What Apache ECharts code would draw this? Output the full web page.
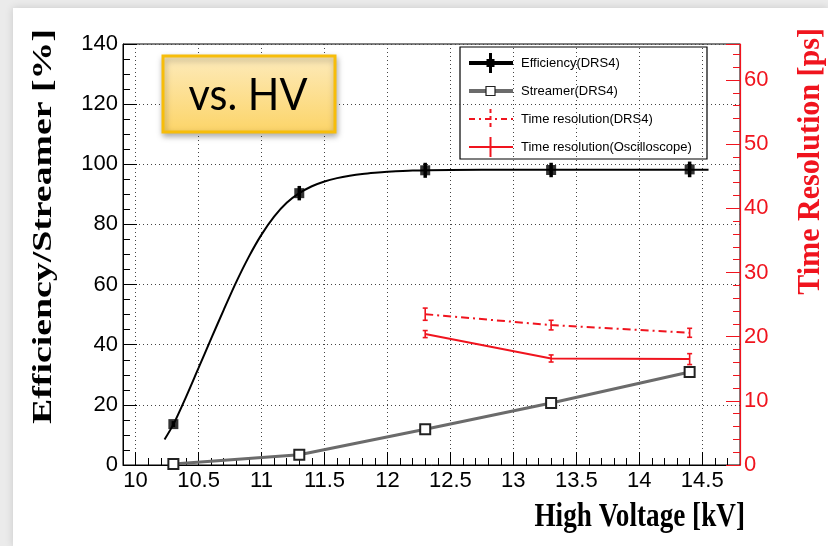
<!DOCTYPE html>
<html>
<head>
<meta charset="utf-8">
<title>Efficiency and time resolution vs. HV</title>
<script src="https://cdn.jsdelivr.net/npm/echarts@6/dist/echarts.min.js"></script>
<style>
  html, body { margin: 0; padding: 0; background: #ebebeb; }
  #sheet { position: absolute; left: 13px; top: 8px; width: 815px; height: 538px; background: #fff; box-shadow: 0 0 8px rgba(0, 0, 0, 0.15); }
  #main { position: absolute; left: 0; top: 0; width: 828px; height: 546px; }
</style>
</head>
<body>
<div id="sheet"></div>
<div id="main"></div>
<script>
// measured points (HV in kV)
const voltage = [10.3, 11.3, 12.3, 13.3, 14.4];
const efficiency = [13.6, 90.4, 98.0, 98.1, 98.3];
const efficiencyErr = [1.0, 2.4, 2.5, 2.4, 2.6];
const streamer = [0.3, 3.4, 11.9, 20.6, 30.9];

// fitted efficiency curve
const fitVoltage = [10.23, 10.3, 10.4, 10.5, 10.6, 10.7, 10.8, 10.9, 11.0, 11.1, 11.2, 11.3, 11.4, 11.5, 11.6, 11.7, 11.8, 11.9, 12.0, 12.2, 12.5, 13.0, 14.55];
const fitEfficiency = [8.5, 13.5, 22.6, 32.3, 42.0, 51.6, 60.9, 69.3, 76.6, 82.6, 87.2, 90.4, 92.7, 94.3, 95.4, 96.2, 96.8, 97.2, 97.5, 97.9, 98.1, 98.2, 98.2];

// time resolution [ps], right axis
const trVoltage = [12.3, 13.3, 14.4];
const trDrs4 = [23.5, 21.8, 20.6];
const trDrs4Err = [0.95, 0.75, 0.7];
const trOscilloscope = [20.4, 16.6, 16.5];
const trOscilloscopeErr = [0.55, 0.55, 0.85];

// axis ranges
const xRange = [9.9, 14.8];
const effRange = [0, 140];
const trRange = [0, 65.6];

const RED = '#f0141e';

function errorBars(color, width, cap) {
  return function (params, api) {
    const x = api.value(0);
    const lo = api.coord([x, api.value(1)]);
    const hi = api.coord([x, api.value(2)]);
    const children = [{
      type: 'line',
      shape: { x1: lo[0], y1: lo[1], x2: hi[0], y2: hi[1] },
      style: { stroke: color, lineWidth: width }
    }];
    if (cap) {
      children.push({ type: 'line', shape: { x1: lo[0] - cap, y1: lo[1], x2: lo[0] + cap, y2: lo[1] }, style: { stroke: color, lineWidth: width } });
      children.push({ type: 'line', shape: { x1: hi[0] - cap, y1: hi[1], x2: hi[0] + cap, y2: hi[1] }, style: { stroke: color, lineWidth: width } });
    }
    return { type: 'group', children: children };
  };
}

const chart = echarts.init(document.getElementById('main'));

const tickFont = 'Liberation Sans';
const titleFont = '"Liberation Serif", serif';

const option = {
  animation: false,
  grid: { left: 123, right: 88, top: 44, bottom: 81, show: true, borderColor: '#000', borderWidth: 1 },
  xAxis: {
    type: 'value', min: xRange[0], max: xRange[1], splitNumber: 10,
    axisLine: { lineStyle: { color: '#000', width: 1 } },
    axisTick: { inside: true, length: 13, lineStyle: { color: '#000' } },
    minorTick: { show: true, splitNumber: 5, length: 7, lineStyle: { color: '#000' } },
    axisLabel: { color: '#000', fontSize: 22, fontFamily: tickFont, margin: 5, showMinLabel: false, showMaxLabel: false },
    splitLine: { show: true, lineStyle: { color: '#444', type: [1, 3] } }
  },
  yAxis: [{
    type: 'value', min: effRange[0], max: effRange[1], interval: 20,
    axisLine: { show: true, lineStyle: { color: '#000', width: 1 } },
    axisTick: { show: true, inside: true, length: 14, lineStyle: { color: '#000' } },
    minorTick: { show: true, splitNumber: 4, length: 7, lineStyle: { color: '#000' } },
    axisLabel: { color: '#000', fontSize: 22, fontFamily: tickFont, margin: 5 },
    splitLine: { show: true, lineStyle: { color: '#444', type: [1, 3] } }
  }, {
    type: 'value', position: 'right', min: trRange[0], max: trRange[1], interval: 10, z: 3,
    axisLine: { show: true, lineStyle: { color: RED, width: 1.2 } },
    axisTick: { show: true, inside: true, length: 14, lineStyle: { color: RED } },
    minorTick: { show: true, splitNumber: 5, length: 7, lineStyle: { color: RED } },
    axisLabel: { color: RED, fontSize: 22, fontFamily: tickFont, margin: 4, showMaxLabel: false },
    splitLine: { show: false }
  }],
  series: [{
    name: 'Efficiency fit', type: 'line', smooth: 0.3, showSymbol: false, z: 3,
    data: fitVoltage.map((v, i) => [v, fitEfficiency[i]]),
    lineStyle: { color: '#000', width: 2 }
  }, {
    name: 'Streamer(DRS4)', type: 'line', z: 3,
    data: voltage.map((v, i) => [v, streamer[i]]),
    lineStyle: { color: '#6b6b6b', width: 3 },
    symbol: 'emptyRect', symbolSize: 10,
    itemStyle: { color: '#222', borderWidth: 1.2 }
  }, {
    name: 'Efficiency(DRS4)', type: 'scatter', z: 5,
    data: voltage.map((v, i) => [v, efficiency[i]]),
    symbol: 'rect', symbolSize: 10,
    itemStyle: { color: '#000' }
  }, {
    name: 'Efficiency error', type: 'custom', z: 4,
    renderItem: errorBars('#000', 3.5, 0),
    encode: { x: 0, y: [1, 2] },
    data: voltage.map((v, i) => [v, efficiency[i] - efficiencyErr[i], efficiency[i] + efficiencyErr[i]])
  }, {
    name: 'Time resolution(DRS4)', type: 'line', yAxisIndex: 1, showSymbol: false, z: 3,
    data: trVoltage.map((v, i) => [v, trDrs4[i]]),
    lineStyle: { color: RED, width: 2, type: [8, 4, 2, 4] }
  }, {
    name: 'DRS4 error', type: 'custom', yAxisIndex: 1, z: 4,
    renderItem: errorBars(RED, 1.6, 2.5),
    encode: { x: 0, y: [1, 2] },
    data: trVoltage.map((v, i) => [v, trDrs4[i] - trDrs4Err[i], trDrs4[i] + trDrs4Err[i]])
  }, {
    name: 'Time resolution(Oscilloscope)', type: 'line', yAxisIndex: 1, showSymbol: false, z: 3,
    data: trVoltage.map((v, i) => [v, trOscilloscope[i]]),
    lineStyle: { color: RED, width: 2 }
  }, {
    name: 'Oscilloscope error', type: 'custom', yAxisIndex: 1, z: 4,
    renderItem: errorBars(RED, 1.6, 2.5),
    encode: { x: 0, y: [1, 2] },
    data: trVoltage.map((v, i) => [v, trOscilloscope[i] - trOscilloscopeErr[i], trOscilloscope[i] + trOscilloscopeErr[i]])
  }],
  graphic: [
    // axis titles
    { type: 'text', x: 44, y: 29, rotation: Math.PI / 2, scaleX: 1.4, z: 10,
      style: { text: 'Efficiency/Streamer [%]', font: 'bold 27px ' + titleFont, fill: '#000', align: 'right', verticalAlign: 'middle' } },
    { type: 'text', x: 811, y: 28, rotation: Math.PI / 2, scaleX: 0.97, z: 10,
      style: { text: 'Time Resolution [ps]', font: 'bold 31px ' + titleFont, fill: RED, align: 'right', verticalAlign: 'middle' } },
    { type: 'text', x: 745, y: 517, scaleX: 0.8, z: 10,
      style: { text: 'High Voltage [kV]', font: 'bold 34px ' + titleFont, fill: '#000', align: 'right', verticalAlign: 'middle' } },
    // "vs. HV" label box
    { type: 'rect', z: 10, shape: { x: 163, y: 56, width: 172, height: 76 },
      style: {
        fill: new echarts.graphic.LinearGradient(0, 0, 0, 1, [{ offset: 0, color: '#fdebbd' }, { offset: 1, color: '#fcd467' }]),
        stroke: '#f7bd0a', lineWidth: 3,
        shadowBlur: 6, shadowOffsetX: 1, shadowOffsetY: 3, shadowColor: 'rgba(0,0,0,0.3)'
      } },
    { type: 'text', x: 248, y: 95, scaleX: 0.92, z: 11,
      style: { text: 'vs. HV', font: '45px Lato, "Open Sans", sans-serif', fill: '#000', align: 'center', verticalAlign: 'middle' } },
    // legend box
    { type: 'group', x: 460, y: 47, z: 10, children: [
      { type: 'rect', shape: { x: 0, y: 0, width: 247, height: 112 }, style: { fill: '#fff', stroke: '#000', lineWidth: 1.2 } },
      { type: 'line', shape: { x1: 9, y1: 16, x2: 53, y2: 16 }, style: { stroke: '#000', lineWidth: 4 } },
      { type: 'line', shape: { x1: 30.5, y1: 6, x2: 30.5, y2: 26 }, style: { stroke: '#000', lineWidth: 3 } },
      { type: 'rect', shape: { x: 26.5, y: 12, width: 8, height: 8 }, style: { fill: '#000' } },
      { type: 'text', x: 61, y: 16, style: { text: 'Efficiency(DRS4)', font: '13px "Liberation Sans"', fill: '#000', verticalAlign: 'middle' } },
      { type: 'line', shape: { x1: 9, y1: 44, x2: 53, y2: 44 }, style: { stroke: '#6b6b6b', lineWidth: 4 } },
      { type: 'rect', shape: { x: 26, y: 39.5, width: 9, height: 9 }, style: { fill: '#fff', stroke: '#222', lineWidth: 1.2 } },
      { type: 'text', x: 61, y: 44, style: { text: 'Streamer(DRS4)', font: '13px "Liberation Sans"', fill: '#000', verticalAlign: 'middle' } },
      { type: 'line', shape: { x1: 9, y1: 72, x2: 53, y2: 72 }, style: { stroke: RED, lineWidth: 2, lineDash: [6, 4, 2, 4] } },
      { type: 'line', shape: { x1: 30.5, y1: 62, x2: 30.5, y2: 82 }, style: { stroke: RED, lineWidth: 2, lineDash: [4, 3] } },
      { type: 'text', x: 61, y: 72, style: { text: 'Time resolution(DRS4)', font: '13px "Liberation Sans"', fill: '#000', verticalAlign: 'middle' } },
      { type: 'line', shape: { x1: 9, y1: 100, x2: 53, y2: 100 }, style: { stroke: RED, lineWidth: 2 } },
      { type: 'line', shape: { x1: 30.5, y1: 90, x2: 30.5, y2: 110 }, style: { stroke: RED, lineWidth: 2 } },
      { type: 'text', x: 61, y: 100, style: { text: 'Time resolution(Oscilloscope)', font: '13px "Liberation Sans"', fill: '#000', verticalAlign: 'middle' } }
    ] }
  ]
};

chart.setOption(option);
</script>
</body>
</html>
